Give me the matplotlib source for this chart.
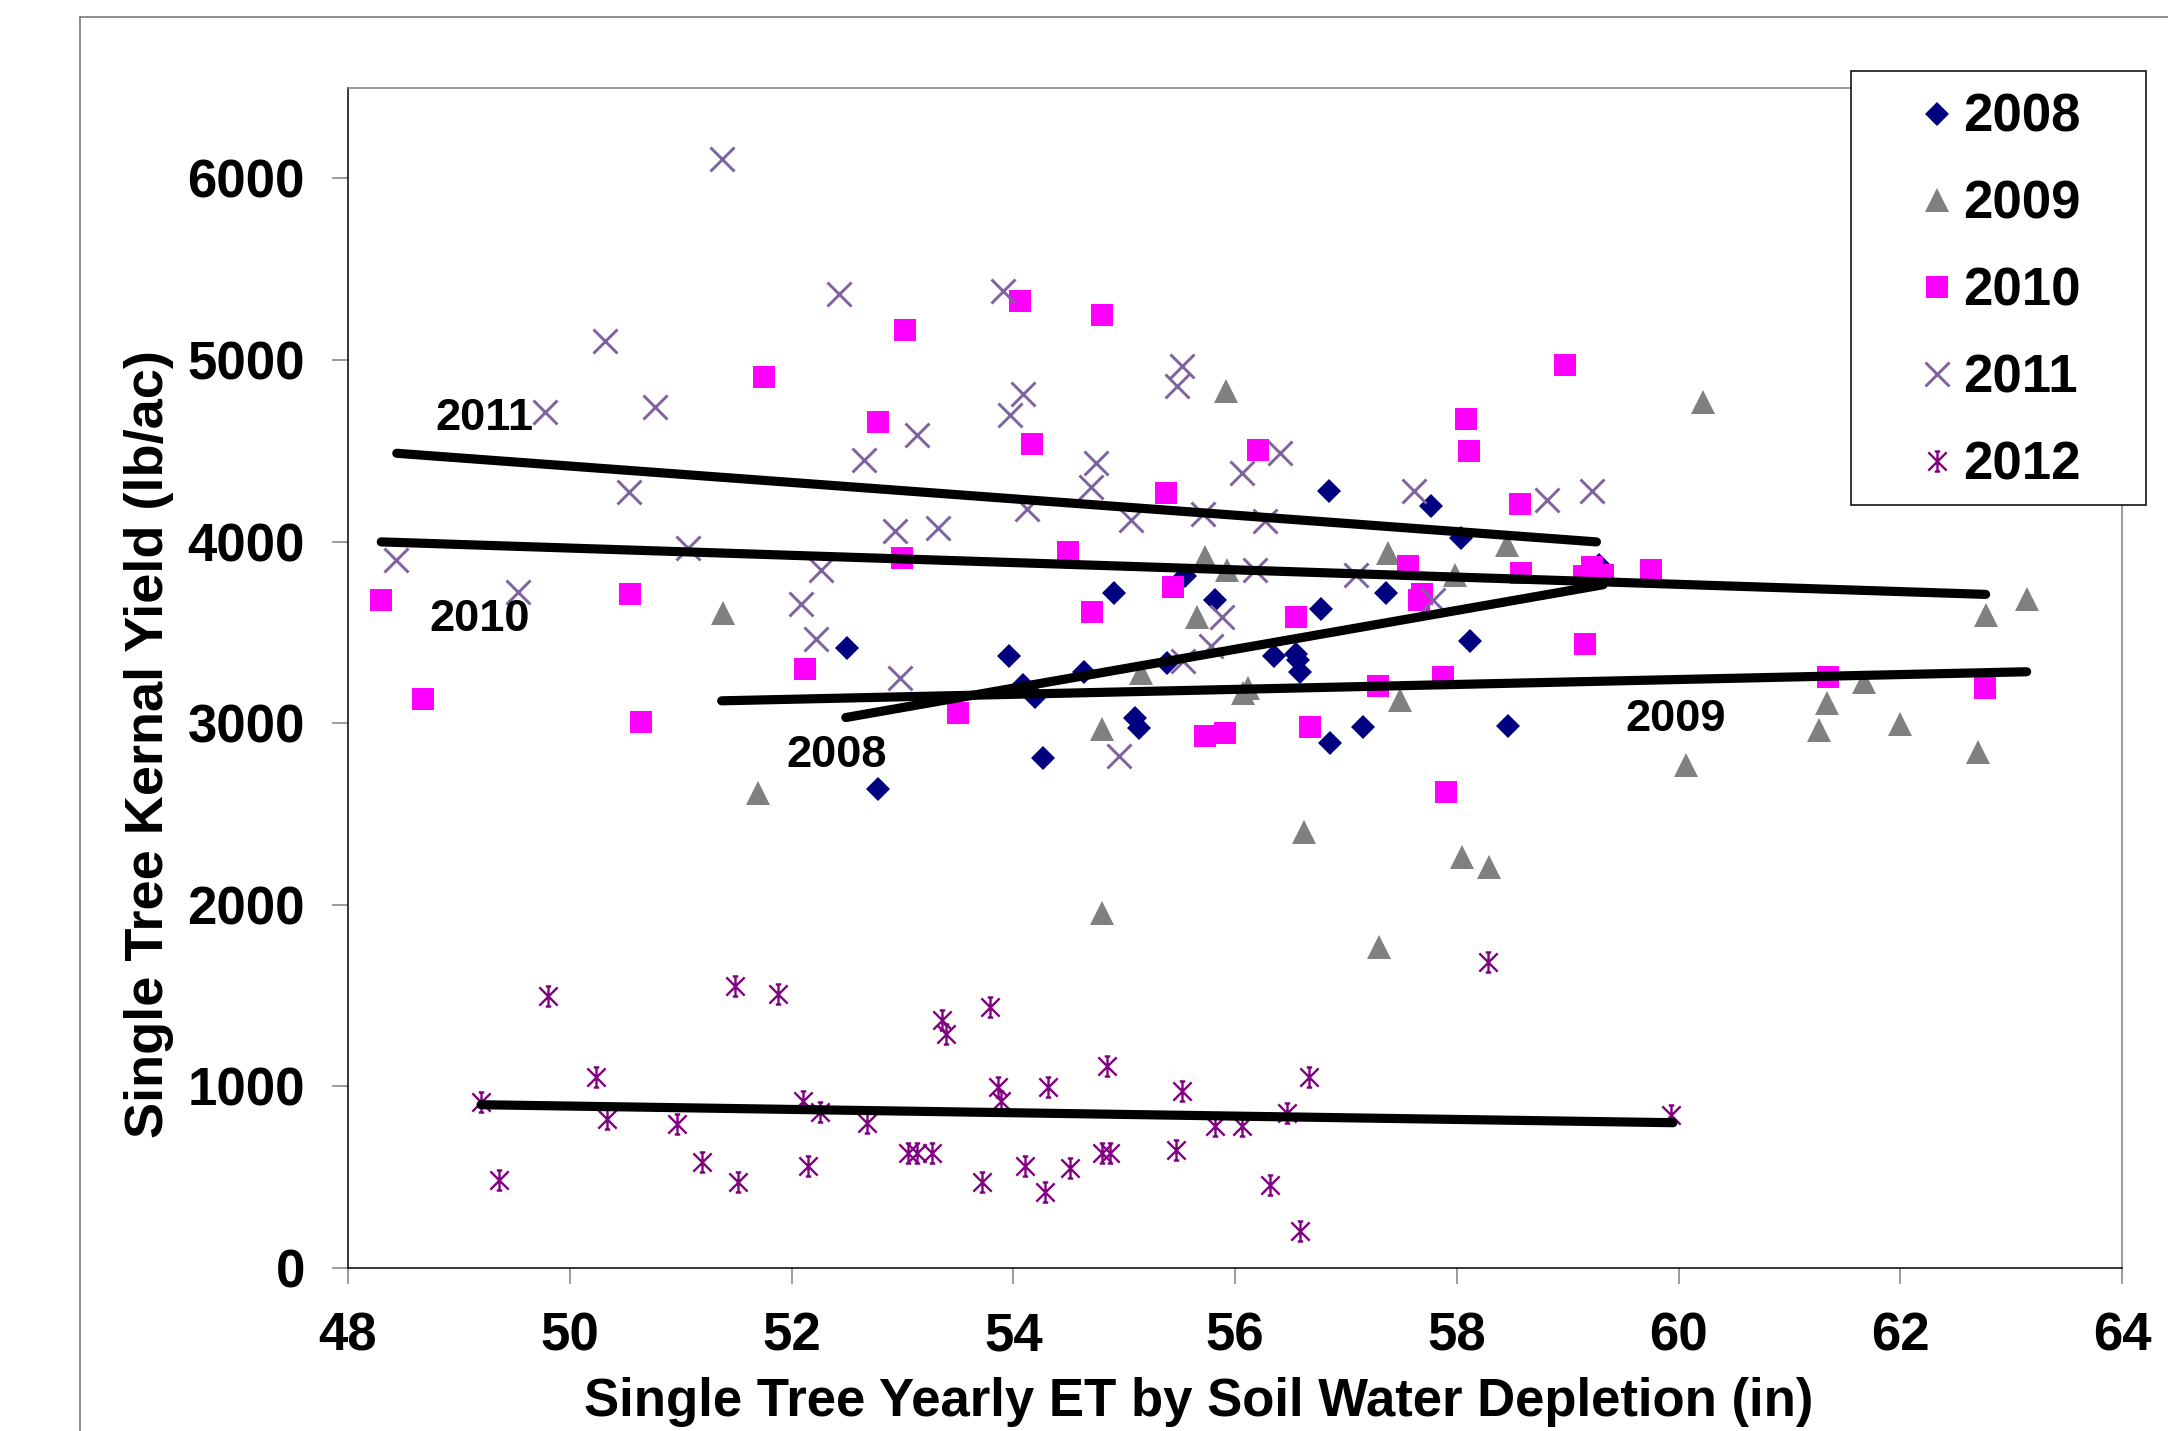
import matplotlib
matplotlib.use("Agg")
import matplotlib.pyplot as plt
from matplotlib.path import Path
from matplotlib.lines import Line2D
from matplotlib.patches import Rectangle

# ---- data ----
x2008 = [52.50, 52.78, 53.96, 54.09, 54.20, 54.27, 54.64, 54.91, 55.10, 55.13,
         55.39, 55.55, 55.82, 56.35, 56.55, 56.57, 56.59, 56.78, 56.85, 56.86,
         57.15, 57.36, 57.77, 58.04, 58.12, 58.46, 59.28]
y2008 = [3414, 2636, 3370, 3211, 3146, 2807, 3284, 3716, 3027, 2975,
         3330, 3808, 3679, 3370, 3381, 3348, 3279, 3627, 4280, 2893,
         2981, 3717, 4193, 4019, 3455, 2982, 3870]

x2009 = [51.38, 51.70, 54.80, 54.80, 55.15, 55.66, 55.73, 55.92, 55.93, 56.07,
         56.12, 56.62, 57.30, 57.38, 57.49, 57.98, 58.05, 58.29, 58.45, 60.07,
         60.22, 61.27, 61.34, 61.67, 62.00, 62.70, 62.77, 63.14]
y2009 = [3605, 2614, 2970, 1957, 3275, 3587, 3915, 4828, 3846, 3168,
         3191, 2399, 1767, 3937, 3130, 3816, 2262, 2209, 3983, 2772,
         4771, 2963, 3111, 3229, 2995, 2841, 3595, 3686]

x2010 = [48.30, 48.68, 50.54, 50.64, 51.75, 52.12, 52.78, 53.00, 53.02, 53.50,
         54.06, 54.17, 54.49, 54.71, 54.80, 55.38, 55.44, 55.73, 55.91, 56.21,
         56.55, 56.68, 57.29, 57.56, 57.66, 57.69, 57.88, 57.90, 58.08, 58.11,
         58.57, 58.58, 58.98, 59.16, 59.15, 59.22, 59.32, 59.75, 61.35, 62.76]
y2010 = [3678, 3135, 3712, 3008, 4906, 3299, 4658, 3909, 5166, 3054,
         5327, 4536, 3940, 3610, 5245, 4266, 3747, 2932, 2947, 4505,
         3587, 2978, 3206, 3863, 3679, 3709, 3252, 2620, 4676, 4500,
         4206, 3827, 4973, 3437, 3808, 3861, 3816, 3846, 3253, 3192]

x2011 = [48.43, 49.53, 49.78, 50.32, 50.53, 50.77, 51.07, 51.37, 52.09, 52.22,
         52.27, 52.43, 52.65, 52.93, 52.98, 53.13, 53.32, 53.91, 53.97, 54.09,
         54.12, 54.70, 54.75, 54.95, 55.06, 55.48, 55.52, 55.53, 55.71, 55.78,
         55.88, 56.06, 56.18, 56.27, 56.41, 57.09, 57.61, 57.79, 58.81, 59.22]
y2011 = [3899, 3724, 4711, 5105, 4272, 4740, 3963, 6108, 3656, 3462,
         3844, 5364, 4450, 4059, 3247, 4585, 4074, 5377, 4699, 4813,
         4181, 4303, 4432, 2818, 4120, 4859, 4966, 3343, 4151, 3427,
         3587, 4379, 3846, 4113, 4486, 3816, 4280, 3679, 4227, 4280]

x2012 = [49.20, 49.36, 49.80, 50.24, 50.34, 50.97, 51.19, 51.49, 51.52, 51.88,
         52.10, 52.15, 52.26, 52.68, 53.05, 53.13, 53.27, 53.36, 53.39, 53.72,
         53.79, 53.86, 53.89, 54.11, 54.29, 54.31, 54.51, 54.80, 54.85, 54.87,
         55.47, 55.52, 55.82, 56.06, 56.32, 56.47, 56.59, 56.67, 58.28, 59.93]
y2012 = [914, 487, 1500, 1051, 822, 792, 586, 1554, 472, 1508,
         922, 564, 861, 800, 632, 632, 632, 1363, 1287, 472,
         1439, 998, 922, 564, 419, 998, 548, 632, 1112, 632,
         647, 975, 784, 784, 457, 853, 206, 1051, 1683, 845]

# linear trend lines (end points as drawn)
trend_x = {'2008': [52.49, 59.32], '2009': [51.37, 63.14], '2010': [48.30, 62.77],
           '2011': [48.44, 59.26], '2012': [49.20, 59.95]}
trend_y = {'2008': [3031, 3762], '2009': [3123, 3283], '2010': [3998, 3709],
           '2011': [4486, 3998], '2012': [899, 800]}

years = ['2008', '2009', '2010', '2011', '2012']
xticks = list(range(48, 65, 2))
yticks = list(range(0, 6001, 1000))

# ---- figure ----
W, H = 2168, 1431
fig = plt.figure(figsize=(W / 100, H / 100), dpi=100)
plt.rcParams['font.family'] = ['Liberation Sans', 'DejaVu Sans']
plt.rcParams['font.weight'] = 'bold'

ax = fig.add_axes([348 / W, 1 - 1268 / H, 1774 / W, 1180.5 / H])

star = Path([(-1, -1), (1, 1), (-1, 1), (1, -1), (0, -1.1), (0, 1.1),
             (-0.3, 1.1), (0.3, 1.1), (-0.3, -1.1), (0.3, -1.1)],
            [Path.MOVETO, Path.LINETO] * 5)

h1, = ax.plot(x2008, y2008, ls='none', marker='D', ms=12, mew=0, color='#000080', zorder=2)
h2, = ax.plot(x2009, y2009, ls='none', marker='^', ms=17, mew=0, color='#808080', zorder=2)
h3, = ax.plot(x2010, y2010, ls='none', marker='s', ms=16, mew=0, color='#FF00FF', zorder=2)
h4, = ax.plot(x2011, y2011, ls='none', marker='x', ms=17, mew=2.1, color='#7F62A0', zorder=2)
h5, = ax.plot(x2012, y2012, ls='none', marker=star, ms=14.5, mew=1.7, color='#800080',
              mfc='none', zorder=2)

for yr in years:
    ax.plot(trend_x[yr], trend_y[yr], color='black', lw=6.6,
            solid_capstyle='round', zorder=3)

# trend line labels
ax.text(49.23, 4615, '2011', fontsize=32.5, fontweight='bold', ha='center', va='baseline', zorder=4)
ax.text(49.19, 3505, '2010', fontsize=32.5, fontweight='bold', ha='center', va='baseline', zorder=4)
ax.text(52.41, 2760, '2008', fontsize=32.5, fontweight='bold', ha='center', va='baseline', zorder=4)
ax.text(59.97, 2958, '2009', fontsize=32.5, fontweight='bold', ha='center', va='baseline', zorder=4)

ax.set_xlim(48, 64)
ax.set_ylim(0, 6500)
ax.set_xticks(xticks)
ax.set_yticks(yticks)
ax.tick_params(direction='out', length=11.5, width=1.1, color='#808080',
               pad=19.5, labelsize=38)
for lab in ax.get_xticklabels() + ax.get_yticklabels():
    lab.set_fontweight('bold')

for side in ['left', 'bottom']:
    ax.spines[side].set_color('black')
    ax.spines[side].set_linewidth(1.1)
for side in ['top', 'right']:
    ax.spines[side].set_color('#808080')
    ax.spines[side].set_linewidth(1.1)

ax.set_xlabel('Single Tree Yearly ET by Soil Water Depletion (in)', fontsize=38, fontweight='bold')
ax.xaxis.set_label_coords(0.4798, -0.1251)
ax.xaxis.label.set_va('baseline')
ax.set_ylabel('Single Tree Kernal Yield (lb/ac)', fontsize=39, fontweight='bold')
ax.yaxis.set_label_coords(-0.1045, 0.4436)
ax.yaxis.label.set_va('baseline')

# outer chart-area frame (cropped at right and bottom)
fig.add_artist(Line2D([80 / W, 80 / W], [0, 1 - 17 / H], transform=fig.transFigure,
                      color='#6e6e6e', lw=1.1))
fig.add_artist(Line2D([80 / W, 1], [1 - 17 / H, 1 - 17 / H], transform=fig.transFigure,
                      color='#6e6e6e', lw=1.1))

# legend box and entries
fig.add_artist(Rectangle((1851 / W, 1 - 505 / H), 295 / W, 434 / H, transform=fig.transFigure,
                         facecolor='white', edgecolor='black', lw=1.1, zorder=4))
fig.legend([h1, h2, h3, h4, h5], years, loc='upper left',
           bbox_to_anchor=(1910.6 / W, 1 - 93 / H), bbox_transform=fig.transFigure,
           frameon=False, borderpad=0, borderaxespad=0, handlelength=1.0,
           handletextpad=0.0, labelspacing=0.70, numpoints=1,
           prop={'size': 38, 'weight': 'bold'})

fig.savefig('out.png', dpi=100, facecolor='white')
